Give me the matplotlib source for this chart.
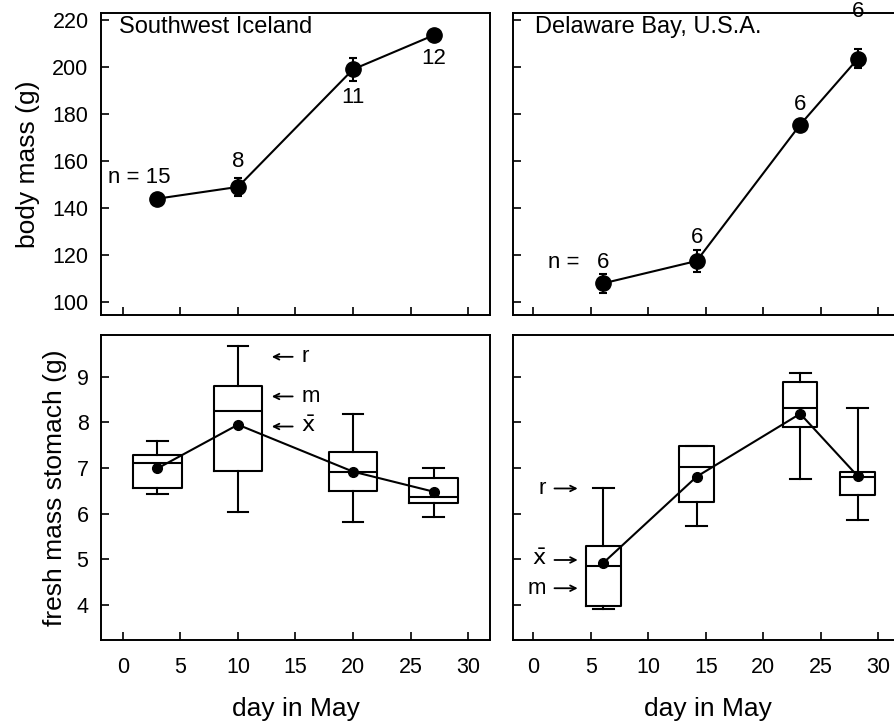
import matplotlib
matplotlib.use("Agg")
import matplotlib.pyplot as plt

plt.rcParams['font.family'] = ['Liberation Sans', 'DejaVu Sans']

# -----------------------------------------
# Data
# -----------------------------------------
# body mass, Southwest Iceland
ice_day = [3, 10, 20, 27]
ice_mass = [144, 149, 199, 213.5]
ice_err = [1.5, 4, 5, 2]
ice_n = ["15", "8", "11", "12"]

# body mass, Delaware Bay
del_day = [6.1, 14.2, 23.2, 28.2]
del_mass = [108, 117.5, 175.5, 203.5]
del_err = [4, 4.5, 2, 4]
del_n = ["6", "6", "6", "6"]

# stomach fresh mass, Southwest Iceland (range low, q1, median, q3, range high, mean)
ice_lo = [6.43, 6.04, 5.82, 5.93]
ice_q1 = [6.55, 6.94, 6.49, 6.24]
ice_med = [7.10, 8.24, 6.91, 6.37]
ice_q3 = [7.29, 8.80, 7.36, 6.77]
ice_hi = [7.60, 9.67, 8.18, 6.99]
ice_mean = [6.99, 7.95, 6.92, 6.48]

# stomach fresh mass, Delaware Bay
del_lo = [3.90, 5.73, 6.76, 5.86]
del_q1 = [3.96, 6.26, 7.89, 6.41]
del_med = [4.84, 7.03, 8.31, 6.81]
del_q3 = [5.29, 7.49, 8.88, 6.92]
del_hi = [6.55, 7.49, 9.08, 8.31]
del_mean = [4.92, 6.81, 8.19, 6.82]

xticks = [0, 5, 10, 15, 20, 25, 30]

# -----------------------------------------
# Layout
# -----------------------------------------
fig = plt.figure(figsize=(8.94, 7.25), dpi=100)
ax_tl = fig.add_axes([0.113, 0.5655, 0.435, 0.4166])
ax_tr = fig.add_axes([0.574, 0.5655, 0.435, 0.4166])
ax_bl = fig.add_axes([0.113, 0.117, 0.435, 0.421])
ax_br = fig.add_axes([0.574, 0.117, 0.435, 0.421])

for ax in (ax_tl, ax_bl):
    ax.set_xlim(-1.9, 31.9)
for ax in (ax_tr, ax_br):
    ax.set_xlim(-1.75, 32.05)

for ax in (ax_tl, ax_tr, ax_bl, ax_br):
    ax.set_xticks(xticks)
    ax.tick_params(direction='in', length=6, width=1.2, labelsize=15.5)
    ax.tick_params(axis='x', pad=12)
    ax.tick_params(axis='y', pad=9)
    for s in ax.spines.values():
        s.set_linewidth(1.4)

for ax in (ax_tl, ax_tr):
    ax.set_ylim(94.5, 223)
    ax.set_yticks(range(100, 221, 20))
    ax.tick_params(axis='x', labelbottom=False)

for ax in (ax_bl, ax_br):
    ax.set_ylim(3.22, 9.92)
    ax.set_yticks(range(4, 10))
    ax.set_xlabel("day in May", fontsize=19, labelpad=14)

ax_tr.tick_params(axis='y', labelleft=False)
ax_br.tick_params(axis='y', labelleft=False)

# -----------------------------------------
# Body mass panels
# -----------------------------------------
for ax, d, m, e in ((ax_tl, ice_day, ice_mass, ice_err),
                    (ax_tr, del_day, del_mass, del_err)):
    ax.errorbar(d, m, yerr=e, color='black', marker='o', markersize=11,
                linewidth=1.5, elinewidth=1.5, capsize=3, capthick=1.5)

ax_tl.text(0.045, 0.955, "Southwest Iceland", transform=ax_tl.transAxes,
           fontsize=17, va='center')
ax_tl.text(ice_day[0] + 1.1, 153, "n = " + ice_n[0], fontsize=16,
           ha='right', va='center')
ax_tl.text(ice_day[1], 160, ice_n[1], fontsize=16, ha='center', va='center')
ax_tl.text(ice_day[2], 187, ice_n[2], fontsize=16, ha='center', va='center')
ax_tl.text(ice_day[3], 203.5, ice_n[3], fontsize=16, ha='center', va='center')

ax_tr.text(0.055, 0.955, "Delaware Bay, U.S.A.", transform=ax_tr.transAxes,
           fontsize=17, va='center')
ax_tr.text(del_day[0] - 4.8, 117, "n =", fontsize=16, va='center')
offsets = [9, 10, 8.5, 20]
for d, m, n, o in zip(del_day, del_mass, del_n, offsets):
    ax_tr.text(d, m + o, n, fontsize=16, ha='center', va='center',
               clip_on=False)

ax_tl.set_ylabel("body mass (g)", fontsize=19, labelpad=9)

# -----------------------------------------
# Stomach mass panels (box = quartiles, whiskers = range)
# -----------------------------------------
def boxes(ax, days, lo, q1, med, q3, hi, mean, width):
    stats = [dict(whislo=a, q1=b, med=c, q3=d, whishi=e)
             for a, b, c, d, e in zip(lo, q1, med, q3, hi)]
    lp = dict(color='black', linewidth=1.5)
    ax.bxp(stats, positions=days, widths=width, showfliers=False,
           boxprops=lp, whiskerprops=lp, capprops=lp, medianprops=lp,
           capwidths=1.8, manage_ticks=False)
    ax.plot(days, mean, color='black', marker='o', markersize=7, linewidth=1.5)

boxes(ax_bl, ice_day, ice_lo, ice_q1, ice_med, ice_q3, ice_hi, ice_mean, 4.2)
boxes(ax_br, del_day, del_lo, del_q1, del_med, del_q3, del_hi, del_mean, 3.0)

arr = dict(arrowstyle='->', color='black', lw=1.3)
# legend arrows, left panel
for lab, yv in (("r", 9.44), ("m", 8.57), (r"$\bar{\mathrm{x}}$", 7.91)):
    ax_bl.annotate("", xy=(12.7, yv), xytext=(15.0, yv), arrowprops=arr)
    ax_bl.text(15.5, yv, lab, fontsize=16, va='center')
# legend arrows, right panel
for lab, yv in (("r", 6.55), (r"$\bar{\mathrm{x}}$", 4.98), ("m", 4.36)):
    ax_br.annotate("", xy=(4.1, yv), xytext=(1.6, yv), arrowprops=arr)
    ax_br.text(1.1, yv, lab, fontsize=16, va='center', ha='right')

ax_bl.set_ylabel("fresh mass stomach (g)", fontsize=19, labelpad=7)

fig.savefig("out.png", dpi=100)
